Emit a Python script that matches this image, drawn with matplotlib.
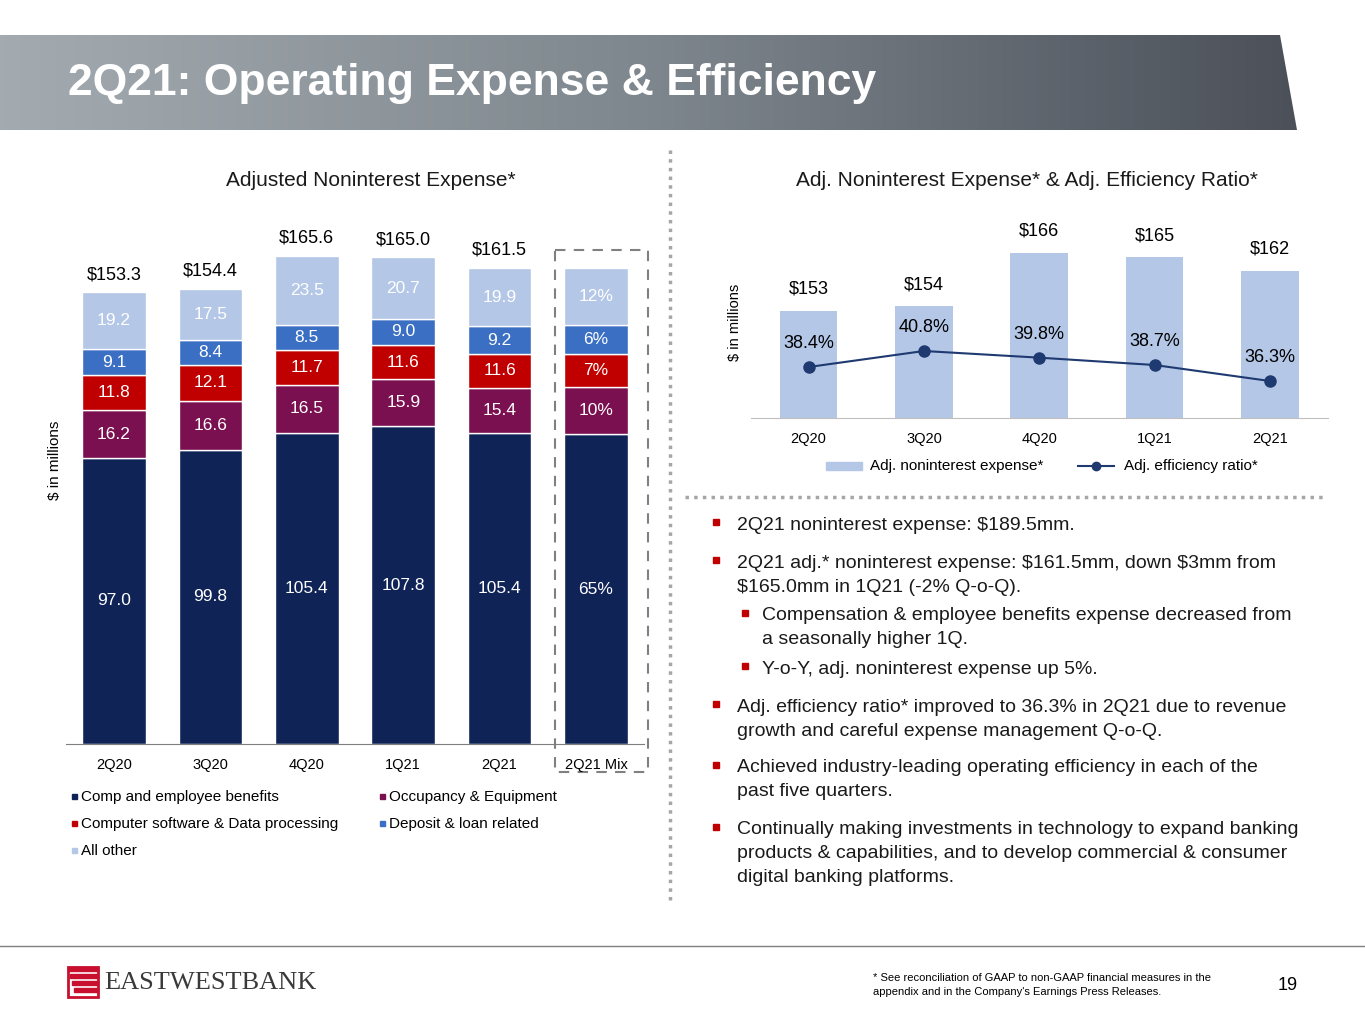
import matplotlib
matplotlib.use("Agg")
import matplotlib.pyplot as plt
import numpy as np
from matplotlib.patches import Polygon, Rectangle
from matplotlib.lines import Line2D
from matplotlib.colors import LinearSegmentedColormap

plt.rcParams['font.family'] = ['Liberation Sans', 'DejaVu Sans']
plt.rcParams['text.parse_math'] = False

# ---- data ----
quarters = ["2Q20", "3Q20", "4Q20", "1Q21", "2Q21"]
left_cats = quarters + ["2Q21 Mix"]
comp = [97.0, 99.8, 105.4, 107.8, 105.4]
occup = [16.2, 16.6, 16.5, 15.9, 15.4]
software = [11.8, 12.1, 11.7, 11.6, 11.6]
deposit = [9.1, 8.4, 8.5, 9.0, 9.2]
other = [19.2, 17.5, 23.5, 20.7, 19.9]
totals = [153.3, 154.4, 165.6, 165.0, 161.5]
mix_pct = [65, 10, 7, 6, 12]
series_names = ["Comp and employee benefits", "Occupancy & Equipment",
                "Computer software & Data processing", "Deposit & loan related", "All other"]
colors = ["#0f2357", "#7b1050", "#c00000", "#3a6fc4", "#b4c7e7"]

adj_exp = [153, 154, 166, 165, 162]
eff_ratio = [38.4, 40.8, 39.8, 38.7, 36.3]

W, H = 1365, 1024
fig = plt.figure(figsize=(13.65, 10.24), dpi=100)
fx = lambda x: x / W
fy = lambda y: 1 - y / H

bg = fig.add_axes([0, 0, 1, 1]); bg.set_xlim(0, W); bg.set_ylim(H, 0); bg.axis("off")
grad = np.linspace(0, 1, 512).reshape(1, -1)
cm = LinearSegmentedColormap.from_list("g", ["#a3abb1", "#7f878e", "#4b5059"])
im = bg.imshow(grad, extent=[0, 1297, 130, 35], aspect="auto", cmap=cm, zorder=1)
clip = Polygon([[0, 35], [1280, 35], [1297, 130], [0, 130]], transform=bg.transData)
im.set_clip_path(clip)
bg.text(68, 84, "2Q21: Operating Expense & Efficiency", color="white", fontsize=32,
        fontweight="bold", va="center", ha="left", zorder=2)
bg.plot([670, 670], [150, 900], color="#a6a6a6", lw=2.5, ls=(0, (1, 1.5)))
bg.plot([685, 1325], [497, 497], color="#a6a6a6", lw=2.5, ls=(0, (1, 1.5)))
bg.plot([0, W], [946, 946], color="#7f7f7f", lw=1)

# ---- left chart ----
bg.text(371, 180, "Adjusted Noninterest Expense*", fontsize=15, ha="center", va="center", color="#1a1a1a")
axL = fig.add_axes([fx(65.8), fy(744), fx(578.4), (744 - 228) / H])
axL.patch.set_alpha(0)
axL.set_xlim(-0.5, 5.5); axL.set_ylim(0, 175)
segs = [comp, occup, software, deposit, other]
mix_vals = [p * totals[-1] / 100 for p in mix_pct]
x = np.arange(6)
bottom = np.zeros(6)
for i, s in enumerate(segs):
    vals = np.array(list(s) + [mix_vals[i]])
    axL.bar(x, vals, 0.66, bottom=bottom, color=colors[i], edgecolor="white", linewidth=1)
    for j in range(6):
        lab = f"{vals[j]:.1f}" if j < 5 else f"{mix_pct[i]}%"
        axL.text(x[j], bottom[j] + vals[j] / 2, lab, color="white", fontsize=12.5, ha="center", va="center")
    bottom += vals
for j in range(5):
    axL.text(x[j], totals[j] + 3, f"${totals[j]:.1f}", ha="center", va="bottom", fontsize=13)
axL.set_xticks(x); axL.set_xticklabels(left_cats, fontsize=10.5)
axL.tick_params(length=0, pad=10)
axL.set_yticks([])
for sp in ["top", "right", "left"]:
    axL.spines[sp].set_visible(False)
axL.spines["bottom"].set_color("#7f7f7f")
bg.add_patch(Rectangle((555, 250), 93, 522, fill=False, ec="#808080", lw=1.5, ls=(0, (5, 4)), zorder=5))
bg.text(55, 460, "$ in millions", rotation=90, fontsize=11, ha="center", va="center")
leg_pos = [(72, 797), (380, 797), (72, 824), (380, 824), (72, 851)]
for i, (lx, ly) in enumerate(leg_pos):
    bg.add_patch(Rectangle((lx, ly - 3), 5, 5, color=colors[i]))
    bg.text(lx + 9, ly, series_names[i], fontsize=11, va="center", ha="left")

# ---- right chart ----
bg.text(1027, 180, "Adj. Noninterest Expense* & Adj. Efficiency Ratio*", fontsize=15,
        ha="center", va="center", color="#1a1a1a")
axR = fig.add_axes([fx(751), fy(418), fx(576.5), (418 - 215) / H])
axR.patch.set_alpha(0)
xr = np.arange(5)
axR.set_xlim(-0.5, 4.5); axR.set_ylim(129, 174.5)
axR.bar(xr, adj_exp, 0.5, color="#b4c7e7")
for j in range(5):
    axR.text(xr[j], adj_exp[j] + 3, f"${adj_exp[j]}", ha="center", va="bottom", fontsize=13)
axR.set_xticks(xr); axR.set_xticklabels(quarters, fontsize=10.5)
axR.tick_params(length=0, pad=10); axR.set_yticks([])
for sp in ["top", "right", "left"]:
    axR.spines[sp].set_visible(False)
axR.spines["bottom"].set_color("#bfbfbf")
axR2 = axR.twinx()
axR2.set_ylim(30.75, 61.2)
axR2.plot(xr, eff_ratio, color="#1f3a70", marker="o", ms=8, lw=1.5)
for j in range(5):
    axR2.text(xr[j], eff_ratio[j] + 2.2, f"{eff_ratio[j]}%", ha="center", va="bottom", fontsize=13)
axR2.set_yticks([]); axR2.axis("off")
bg.text(735, 322, "$ in millions", rotation=90, fontsize=10.5, ha="center", va="center")
bg.add_patch(Rectangle((826, 462), 36, 8, color="#b4c7e7"))
bg.text(870, 466, "Adj. noninterest expense*", fontsize=11, va="center")
bg.add_line(Line2D([1078, 1114], [466, 466], color="#1f3a70", lw=1.5))
bg.plot([1096], [466], marker="o", color="#1f3a70", ms=6)
bg.text(1124, 466, "Adj. efficiency ratio*", fontsize=11, va="center")

# ---- bullets ----
bullets = [
    (0, 525, ["2Q21 noninterest expense: $189.5mm."]),
    (0, 563, ["2Q21 adj.* noninterest expense: $161.5mm, down $3mm from", "$165.0mm in 1Q21 (-2% Q-o-Q)."]),
    (1, 616, ["Compensation & employee benefits expense decreased from", "a seasonally higher 1Q."]),
    (1, 669, ["Y-o-Y, adj. noninterest expense up 5%."]),
    (0, 707, ["Adj. efficiency ratio* improved to 36.3% in 2Q21 due to revenue", "growth and careful expense management Q-o-Q."]),
    (0, 768, ["Achieved industry-leading operating efficiency in each of the", "past five quarters."]),
    (0, 830, ["Continually making investments in technology to expand banking",
              "products & capabilities, and to develop commercial & consumer", "digital banking platforms."]),
]
for lvl, y0, lines in bullets:
    mx = 716 if lvl == 0 else 745
    tx = 737 if lvl == 0 else 762
    bg.add_patch(Rectangle((mx - 3, y0 - 6), 6, 6, color="#c00000"))
    for k, ln in enumerate(lines):
        bg.text(tx, y0 + 24 * k, ln, fontsize=14, va="center", ha="left", color="#1a1a1a")

# ---- footer ----
for k in range(4):
    bg.add_patch(Rectangle((68 + k * 2, 967 + k * 7), 30 - k * 2, 4, color="#c8102e"))
bg.add_patch(Rectangle((68, 967), 30, 30, fill=False, ec="#c8102e", lw=2))
bg.text(104, 983, "EASTWESTBANK", fontsize=19, family="Liberation Serif", va="center",
        color="#3a3a3a")
bg.text(873, 978, "* See reconciliation of GAAP to non-GAAP financial measures in the", fontsize=8, va="center")
bg.text(873, 992, "appendix and in the Company's Earnings Press Releases.", fontsize=8, va="center")
bg.text(1288, 986, "19", fontsize=13, va="center", ha="center")

fig.savefig("out.png", dpi=100)
